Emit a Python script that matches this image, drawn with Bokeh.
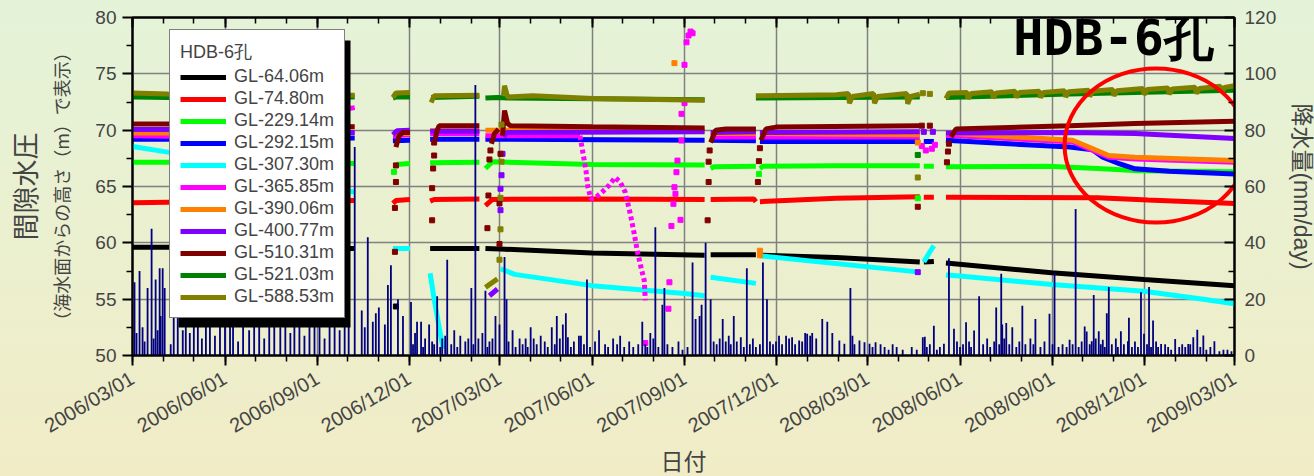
import numpy as np
import pandas as pd
from bokeh.plotting import figure
from bokeh.models import (Range1d, LinearAxis, DatetimeAxis, FixedTicker, BoxAnnotation,
                          DatetimeTickFormatter, CustomJSTickFormatter, Legend, LegendItem,
                          Title, Label)
from bokeh.embed import file_html
from bokeh.resources import INLINE

# ---------------- data ----------------
START_DATE = "2006-03-01"   # day 0
END_DAY = 1096              # 2009-03-01

x_tick_labels = ["2006/03/01", "2006/06/01", "2006/09/01", "2006/12/01",
                 "2007/03/01", "2007/06/01", "2007/09/01", "2007/12/01",
                 "2008/03/01", "2008/06/01", "2008/09/01", "2008/12/01",
                 "2009/03/01"]
y_left_ticks = [50, 55, 60, 65, 70, 75, 80]
y_left_minor = [52.5, 57.5, 62.5, 67.5, 72.5, 77.5]
y_right_ticks = [0, 20, 40, 60, 80, 100, 120]
y_right_minor = [10, 30, 50, 70, 90, 110]

series_labels = ["GL-64.06m", "GL-74.80m", "GL-229.14m", "GL-292.15m",
                 "GL-307.30m", "GL-365.85m", "GL-390.06m", "GL-400.77m",
                 "GL-510.31m", "GL-521.03m", "GL-588.53m"]

# (day offset, pore pressure head [m]); None = gap in record
gl_64_06 = [(0, 59.6), (35, 59.6), (221, 59.5), None, (296, 59.5), (345, 59.5), None,
            (351, 59.5), (366, 59.45), (457, 59.1), (569, 58.9), None,
            (575, 58.95), (620, 58.95), None, (624, 58.9), (700, 58.7), (783, 58.3), None,
            (787, 58.3), (797, 58.35), None,
            (809, 58.2), (914, 57.35), (1006, 56.75), (1096, 56.2)]
gl_64_06_pts = [(262, 54.35)]

gl_74_80 = [(0, 63.55), (35, 63.6), (221, 63.75), None, (259, 63.5), (262, 63.75), (276, 63.85), None,
            (296, 63.7), (300, 63.85), (345, 63.9), None,
            (351, 63.3), (358, 63.85), (457, 63.9), (569, 63.85), None,
            (575, 63.85), (618, 63.9), (620, 63.65), None,
            (624, 63.65), (700, 63.95), (783, 64.1), None, (787, 64.05), (797, 64.05), None,
            (809, 64.05), (960, 64.0), (1010, 63.8), (1096, 63.5)]
gl_74_80_pts = []

gl_229_14 = [(0, 67.15), (35, 67.15), (221, 67.05), None, (262, 66.95), (276, 67.05), None,
             (296, 67.1), (345, 67.15), None, (351, 66.6), (358, 67.2), (457, 66.95), (569, 66.9), None,
             (575, 66.6), (578, 66.75), (620, 66.8), None,
             (624, 66.6), (627, 66.8), (700, 66.85), (783, 66.85), None, (787, 66.8), (797, 66.8), None,
             (809, 66.75), (910, 66.8), (960, 66.6), (1000, 66.4), (1096, 66.3)]
gl_229_14_pts = [(260, 66.3), (623, 66.1), (781, 63.95)]

gl_292_15 = [(0, 69.2), (35, 69.2), (221, 69.3), None, (259, 69.05), (276, 69.1), None,
             (296, 69.2), (345, 69.2), None, (351, 69.2), (569, 69.1), None,
             (575, 69.1), (620, 69.05), None, (624, 69.0), (783, 69.0), None, (787, 69.0), (797, 69.0), None,
             (809, 69.1), (932, 68.5), (955, 68.25), (965, 67.6), (982, 67.0), (997, 66.57),
             (1031, 66.36), (1096, 66.1)]
gl_292_15_pts = []

gl_307_30 = [(0, 68.55), (35, 68.05), (221, 64.5), None, (259, 59.5), (276, 59.5), None,
             (296, 57.3), (300, 55.0), (303, 53.5), (306, 52.0), (309, 50.6), None,
             (366, 57.7), (380, 57.2), (457, 56.2), (549, 55.5), (569, 55.3), None,
             (575, 56.95), (620, 56.4), None, (624, 58.85), (783, 57.4), None,
             (787, 58.3), (793, 59.2), (797, 59.75), None,
             (809, 57.15), (823, 57.05), (914, 56.3), (1006, 55.7), (1065, 55.0), (1096, 54.6)]
gl_307_30_pts = []

gl_365_85 = [(0, 69.5), (35, 69.45), (221, 72.0), None, (259, 69.5), (276, 69.6), None,
             (296, 69.7), (345, 69.7), None, (351, 69.5), (445, 69.5), None,
             (575, 69.4), (620, 69.4), None, (624, 69.4), (783, 69.4), None,
             (809, 69.55), (935, 68.95), (951, 68.35), (971, 67.6), (997, 67.45), (1096, 67.15)]
# sparse (dotted) trace of the 2007 excursion
gl_365_85_trace = [(445, 69.5), (447, 68.5), (451, 66.4), (453, 64.9), (456, 63.9), (461, 64.05),
                   (467, 64.5), (474, 65.1), (480, 65.8), (485, 65.4), (490, 64.5), (495, 62.6),
                   (499, 60.8), (502, 59.3), (505, 58.1), (509, 56.65), (510, 54.9)]
gl_365_85_pts = [(510, 51.1), (533, 54.15), (534, 56.5), (536, 61.5), (538, 63.46),
                 (539, 64.94), (540, 64.35), (541, 66.27), (542, 67.3), (545, 62.04), (546, 69.08),
                 (546, 71.45), (549, 72.4), (549, 75.8), (551, 77.8), (553, 78.4), (555, 78.75),
                 (557, 78.6), (785, 68.6), (789, 68.2), (795, 68.35), (798, 68.7)]

gl_390_06 = [(0, 69.75), (35, 69.75), (221, 69.8), None, (259, 69.7), (276, 69.7), None,
             (296, 69.95), (345, 69.95), None, (351, 70.0), (569, 69.95), None,
             (575, 69.7), (620, 69.7), None, (624, 69.7), (783, 69.6), None,
             (809, 69.75), (935, 69.1), (951, 68.5), (971, 67.75), (997, 67.6), (1096, 67.3)]
gl_390_06_pts = [(539, 75.95), (624, 59.3), (624, 58.9), (781, 68.9)]

gl_400_77 = [(0, 70.05), (35, 70.05), (221, 69.8), None, (259, 69.6), (263, 69.95), (276, 70.0), None,
             (296, 69.9), (345, 69.9), None, (355, 55.3), (363, 55.9), None,
             (369, 69.4), (372, 69.8), (569, 69.85), None, (575, 69.8), (620, 69.85), None,
             (624, 69.8), (783, 69.85), None,
             (809, 69.75), (932, 69.8), (997, 69.7), (1096, 69.25)]
gl_400_77_pts = [(366, 62.9), (366, 64.8), (367, 66.0), (368, 67.9), (781, 57.4), (787, 69.85), (796, 69.85)]

gl_510_31 = [(0, 70.55), (35, 70.55), (221, 70.3), None, (262, 68.5), (265, 69.5), (269, 69.8), (276, 69.8), None,
             (301, 69.2), (303, 70.0), (305, 70.4), (345, 70.4), None,
             (357, 68.8), (360, 69.7), (364, 70.1), None,
             (368, 69.5), (370, 71.75), (373, 70.6), (376, 70.4), (457, 70.3), (569, 70.2), None,
             (575, 68.9), (580, 70.0), (590, 70.1), (620, 70.1), None,
             (625, 69.1), (630, 70.1), (640, 70.27), (783, 70.4), None,
             (814, 69.4), (819, 70.1), (932, 70.4), (997, 70.6), (1096, 70.8)]
gl_510_31_pts = [(261, 59.2), (261, 63.1), (262, 65.4), (262, 66.87), (298, 62.0), (298, 64.85),
                 (299, 66.6), (300, 67.75), (300, 68.9), (353, 61.3), (354, 64.2), (355, 67.4),
                 (356, 68.2), (365, 59.9), (365, 63.5), (366, 67.9), (572, 62.0), (573, 65.4),
                 (573, 67.2), (574, 68.2), (622, 65.4), (623, 67.25), (624, 68.4), (781, 63.2),
                 (785, 70.4), (793, 70.4), (810, 67.15), (811, 68.1), (812, 68.8)]

gl_521_03 = [(0, 72.95), (35, 72.9), (221, 72.95), None, (259, 72.85), (262, 72.95), (276, 72.95), None,
             (297, 72.9), (345, 73.0), None, (351, 72.85), (363, 72.9), (373, 72.85), (569, 72.7), None,
             (620, 72.85), (783, 72.95), None,
             (809, 72.9), (932, 73.2), (997, 73.35), (1096, 73.55)]
gl_521_03_pts = [(781, 67.8)]

gl_588_53 = [(0, 73.3), (35, 73.2), (221, 73.1), None, (259, 72.9), (262, 73.3), (276, 73.35), None,
             (297, 72.45), (300, 73.05), (345, 73.1), None, (351, 56.05), (363, 56.8), None,
             (369, 73.1), (370, 73.95), (373, 72.95), (398, 73.05), (458, 72.8), (569, 72.65), None,
             (620, 73.05), (700, 73.15), (712, 73.25), (713, 72.4), (716, 73.0), (737, 73.25),
             (738, 72.4), (741, 73.0), (770, 73.25), (771, 72.35), (774, 73.0), (783, 73.2), None,
             (809, 72.8), (812, 73.3), (830, 73.35), (831, 72.8), (834, 73.25), (855, 73.4),
             (856, 72.85), (859, 73.3), (878, 73.45), (879, 72.9), (882, 73.35), (902, 73.45),
             (903, 72.9), (906, 73.35), (927, 73.5), (928, 72.95), (931, 73.4), (951, 73.55),
             (952, 73.0), (955, 73.45), (975, 73.6), (976, 73.05), (979, 73.5), (1005, 73.7),
             (1006, 73.15), (1009, 73.6), (1030, 73.75), (1031, 73.2), (1034, 73.65), (1057, 73.8),
             (1058, 73.25), (1061, 73.7), (1082, 73.9), (1083, 73.35), (1086, 73.8), (1096, 73.95)]
gl_588_53_pts = [(365, 58.5), (366, 61.2), (366, 64.0), (367, 67.2), (367, 70.5), (781, 65.8),
                 (786, 73.28), (793, 73.22)]

# daily rainfall (day offset, mm/day)
rain = [(2, 26), (4, 8), (7, 30), (10, 10), (12, 5), (15, 24), (19, 45), (21, 6), (23, 27), (25, 9),
        (27, 31), (28, 14), (30, 31), (32, 24), (38, 4), (41, 18), (45, 22), (50, 9), (53, 16),
        (57, 8), (61, 20), (65, 12), (69, 6), (73, 14), (77, 25), (82, 7), (87, 19), (92, 11),
        (97, 15), (100, 22), (105, 5), (110, 17), (116, 9), (121, 13), (126, 20), (131, 6),
        (136, 16), (141, 24), (147, 10), (152, 18), (157, 8), (161, 13), (166, 21), (171, 7),
        (176, 15), (181, 12), (186, 19), (191, 6), (196, 14), (201, 23), (206, 9), (211, 16),
        (215, 11), (221, 74), (228, 16), (231, 10), (234, 42), (239, 12), (242, 15), (245, 17),
        (251, 11), (254, 25), (257, 32), (264, 20), (269, 14), (277, 19), (279, 4), (281, 8),
        (283, 12), (287, 12), (289, 3), (291, 6), (295, 11), (298, 5), (300, 4), (303, 21),
        (306, 3), (308, 6), (311, 7), (313, 34), (317, 4), (320, 9), (323, 3), (326, 7),
        (331, 5), (334, 6), (337, 24), (339, 4), (341, 96), (344, 6), (348, 8), (351, 23),
        (353, 3), (355, 5), (358, 6), (361, 14), (365, 11), (370, 35), (372, 20), (374, 5),
        (378, 9), (381, 3), (385, 6), (388, 4), (391, 6), (393, 3), (396, 10), (399, 6),
        (402, 4), (406, 7), (410, 5), (413, 3), (417, 10), (420, 4), (422, 14), (425, 6),
        (428, 11), (431, 15), (433, 6.5), (436, 3), (439, 5), (444, 7), (446, 7), (449, 4),
        (452, 27), (455, 3), (460, 5), (464, 9), (470, 4), (473, 3), (478, 6), (482, 4),
        (485, 7), (489, 3), (494, 5), (498, 3), (503, 4), (507, 12), (510, 4), (512, 3),
        (515, 8), (518, 6), (520, 45.5), (523, 3), (527, 18), (529, 24), (532, 4), (537, 3),
        (543, 5), (547, 2), (552, 3), (557, 33), (560, 13), (564, 14), (566, 18), (570, 40),
        (575, 20), (578, 5), (581, 4), (584, 6), (587, 13), (590, 5), (593, 7), (595, 4),
        (598, 14), (601, 5), (605, 6.5), (608, 3), (611, 31), (614, 4), (617, 6), (620, 3),
        (624, 4), (627, 33), (631, 20), (634, 5), (637, 4), (640, 5), (643, 7), (646, 4),
        (650, 7), (653, 6), (656, 6.5), (659, 4), (663, 5.3), (666, 5), (669, 8), (671, 7.7),
        (674, 7), (676, 8), (680, 6), (686, 13), (691, 12), (696, 8), (703, 5.3), (708, 4.2),
        (714, 24), (716, 7), (718, 4), (723, 5.3), (728, 4.7), (733, 4.2), (736, 3), (739, 4.7),
        (744, 4), (748, 3), (752, 2), (756, 4), (760, 3), (766, 2), (775, 3), (780, 2),
        (786, 6.5), (788, 6.7), (790, 3), (793, 4), (797, 10.6), (800, 2), (803, 3), (807, 4.2),
        (812, 34.5), (817, 9.5), (820, 5), (823, 3), (826, 4), (829, 11.8), (832, 5), (834, 3),
        (837, 8.9), (842, 21), (846, 4), (850, 6), (853, 3), (857, 5), (859, 17), (862, 4),
        (864, 29), (865, 11), (867, 6), (869, 11.5), (872, 4), (875, 10), (879, 3), (882, 5),
        (885, 17.7), (888, 4), (893, 6), (896, 4), (898, 13), (903, 3), (907, 5), (912, 14.8),
        (915, 4), (917, 29.4), (921, 3), (925, 4), (929, 3), (932, 5.6), (935, 4), (938, 52),
        (941, 3), (944, 5), (947, 10.3), (949, 8.5), (952, 4), (954, 5.1), (956, 21.5),
        (958, 6), (961, 8.6), (963, 4), (965, 5.6), (967, 3), (969, 15), (971, 24.3), (974, 4),
        (978, 6), (980, 3), (983, 8.6), (986, 4), (990, 5.1), (991, 13.4), (994, 3), (997, 5),
        (1000, 3), (1003, 22.5), (1006, 7.7), (1009, 4), (1011, 24.3), (1013, 3), (1015, 12.4),
        (1018, 5), (1020, 3), (1023, 4.1), (1027, 4), (1030, 3), (1033, 2), (1037, 5.9),
        (1041, 3), (1044, 4), (1047, 3), (1050, 4.1), (1052, 4), (1055, 6.5), (1059, 9.1),
        (1062, 3), (1065, 7.1), (1068, 2), (1072, 3), (1076, 5.1), (1081, 1.5), (1085, 2),
        (1089, 2), (1093, 1.5)]

# highlighted region (red ellipse): centre day, centre value, width in days, height in m
HL_DAY, HL_VAL, HL_W_DAYS, HL_H = 1018, 68.64, 182, 13.7

# ---------------- helpers ----------------
DAY_MS = 86400000.0
start_ms = pd.Timestamp(START_DATE).value / 1e6


def to_ms(d):
    return start_ms + d * DAY_MS


def unpack(pts):
    xs, ys = [], []
    for pt in pts:
        if pt is None:
            xs.append(np.nan)
            ys.append(np.nan)
        else:
            xs.append(to_ms(pt[0]))
            ys.append(pt[1])
    return xs, ys


series_lines = [gl_64_06, gl_74_80, gl_229_14, gl_292_15, gl_307_30, gl_365_85,
                gl_390_06, gl_400_77, gl_510_31, gl_521_03, gl_588_53]
series_pts = [gl_64_06_pts, gl_74_80_pts, gl_229_14_pts, gl_292_15_pts, gl_307_30_pts,
              gl_365_85_pts, gl_390_06_pts, gl_400_77_pts, gl_510_31_pts, gl_521_03_pts,
              gl_588_53_pts]
series_colors = ["#000000", "#ff0000", "#00ff00", "#0000ff", "#00ffff", "#ff00ff",
                 "#ff8000", "#8000ff", "#800000", "#008000", "#808000"]

# ---------------- figure ----------------
p = figure(frame_width=1102, frame_height=338, x_axis_type="datetime",
           x_range=Range1d(to_ms(0), to_ms(END_DAY)), y_range=Range1d(50, 80),
           output_backend="svg", toolbar_location=None,
           min_border_left=130, min_border_right=82, min_border_top=17, min_border_bottom=121)
p.extra_y_ranges = {"rain": Range1d(0, 120)}
p.background_fill_alpha = 0
p.border_fill_alpha = 0
p.styles = {"background": "linear-gradient(180deg, #e4f3d8 0%, #eaf0d0 45%, #f1ecc6 100%)"}
p.outline_line_color = "black"
p.outline_line_width = 2

x_ticks_ms = [pd.Timestamp(t.replace("/", "-")).value / 1e6 for t in x_tick_labels]
x_minor_ms = [t.value / 1e6 for t in pd.date_range(START_DATE, "2009-03-01", freq="MS")]
xticker = FixedTicker(ticks=x_ticks_ms, minor_ticks=x_minor_ms)
fmt = "%Y/%m/%d"
xfmt = DatetimeTickFormatter(days=fmt, months=fmt, years=fmt, hours=fmt, hourmin=fmt)

TICK_FONT = "Liberation Sans"
JP_FONT = "Noto Sans CJK JP"
# Latin-metric font first (compact line box); CJK glyphs fall back to Noto Sans CJK
AXIS_TITLE_FONT = "Liberation Sans, Noto Sans CJK JP"

xa = p.xaxis[0]
xa.ticker = xticker
xa.formatter = xfmt
xa.major_label_orientation = 0.53
xa.major_label_text_font = TICK_FONT
xa.major_label_text_font_size = "20px"
xa.major_label_standoff = 11
xa.major_tick_out = 10
xa.major_tick_in = 0
xa.minor_tick_out = 6
xa.minor_tick_in = 0
xa.axis_line_width = 2
xa.major_tick_line_width = 2
xa.minor_tick_line_width = 1.5
xa.axis_label = "日付"
xa.axis_label_text_font = AXIS_TITLE_FONT
xa.axis_label_text_font_size = "23px"
xa.axis_label_text_font_style = "normal"
xa.axis_label_standoff = 0

ya = p.yaxis[0]
ya.ticker = FixedTicker(ticks=y_left_ticks, minor_ticks=y_left_minor)
ya.major_label_text_font = TICK_FONT
ya.major_label_text_font_size = "19px"
ya.major_label_standoff = 6
ya.major_tick_out = 10
ya.major_tick_in = 0
ya.minor_tick_out = 6
ya.minor_tick_in = 0
ya.axis_line_width = 2
ya.major_tick_line_width = 2
ya.minor_tick_line_width = 1.5
ya.axis_label = "（海水面からの高さ（m）で表示）"
ya.axis_label_text_font = JP_FONT
ya.axis_label_text_font_size = "18px"
ya.axis_label_text_font_style = "normal"
ya.axis_label_standoff = 18

p.xgrid.ticker = xticker
p.ygrid.ticker = ya.ticker
for g in (p.xgrid[0], p.ygrid[0]):
    g.grid_line_color = "#808080"
    g.grid_line_width = 1.5

top = DatetimeAxis(ticker=xticker, formatter=CustomJSTickFormatter(code="return ''"),
                   major_label_standoff=0, major_tick_in=10, major_tick_out=0,
                   minor_tick_in=6, minor_tick_out=0, axis_line_width=2,
                   major_tick_line_width=2, minor_tick_line_width=1.5)
p.add_layout(top, "above")

ra = LinearAxis(y_range_name="rain",
                ticker=FixedTicker(ticks=y_right_ticks, minor_ticks=y_right_minor),
                major_tick_in=10, major_tick_out=0, minor_tick_in=6, minor_tick_out=0,
                major_label_standoff=10, axis_line_width=2, major_tick_line_width=2,
                minor_tick_line_width=1.5, major_label_text_font=TICK_FONT,
                major_label_text_font_size="19px",
                axis_label="降水量(mm/day)", axis_label_text_font=AXIS_TITLE_FONT,
                axis_label_text_font_size="23px", axis_label_text_font_style="normal",
                axis_label_standoff=10)
p.add_layout(ra, "right")

p.add_layout(Title(text="間隙水圧", align="center", text_font=JP_FONT, standoff=4,
                   text_font_size="27px", text_font_style="normal"), "left")

# ---------------- data glyphs ----------------
line_renderers = []
for line, pts, col in zip(series_lines, series_pts, series_colors):
    xs, ys = unpack(line)
    r = p.line(xs, ys, line_color=col, line_width=5)
    line_renderers.append(r)
    if col == "#ff00ff":
        tx, ty = unpack(gl_365_85_trace)
        p.line(tx, ty, line_color=col, line_width=5, line_dash="4 3")
    if pts:
        px, py = unpack(pts)
        p.scatter(px, py, marker="square", size=5, color=col)

rx = [to_ms(d) for d, _ in rain]
rv = [v for _, v in rain]
p.vbar(x=rx, top=rv, width=1.8 * DAY_MS, y_range_name="rain",
       fill_color="#000080", line_color=None)

p.ellipse(x=[to_ms(HL_DAY)], y=[HL_VAL], width=[HL_W_DAYS * DAY_MS], height=[HL_H],
          fill_color=None, line_color="#ff0000", line_width=4)

p.add_layout(Label(x=to_ms(876), y=78.15, text="HDB-6孔", text_font="DejaVu Sans Mono",
                   text_font_size="50px", text_font_style="bold",
                   text_baseline="alphabetic", text_color="black"))

# ---------------- legend (with drop shadow) ----------------
p.add_layout(BoxAnnotation(left=46, right=218, bottom=28, top=315,
                           left_units="screen", right_units="screen",
                           bottom_units="screen", top_units="screen",
                           fill_color="black", fill_alpha=1, line_color=None))
legend = Legend(items=[LegendItem(label=l, renderers=[r]) for l, r in zip(series_labels, line_renderers)],
                location=(37, 37), background_fill_color="white", background_fill_alpha=1,
                border_line_color="black", border_line_width=1.5,
                title="HDB-6孔", title_text_font=TICK_FONT, title_text_font_size="18px",
                title_text_font_style="normal", title_standoff=2,
                label_text_font=TICK_FONT, label_text_font_size="18px",
                glyph_width=46, glyph_height=20, label_height=20, spacing=1,
                padding=10, margin=0, label_standoff=8)
p.add_layout(legend)

open("out.html", "w").write(file_html(p, INLINE))
